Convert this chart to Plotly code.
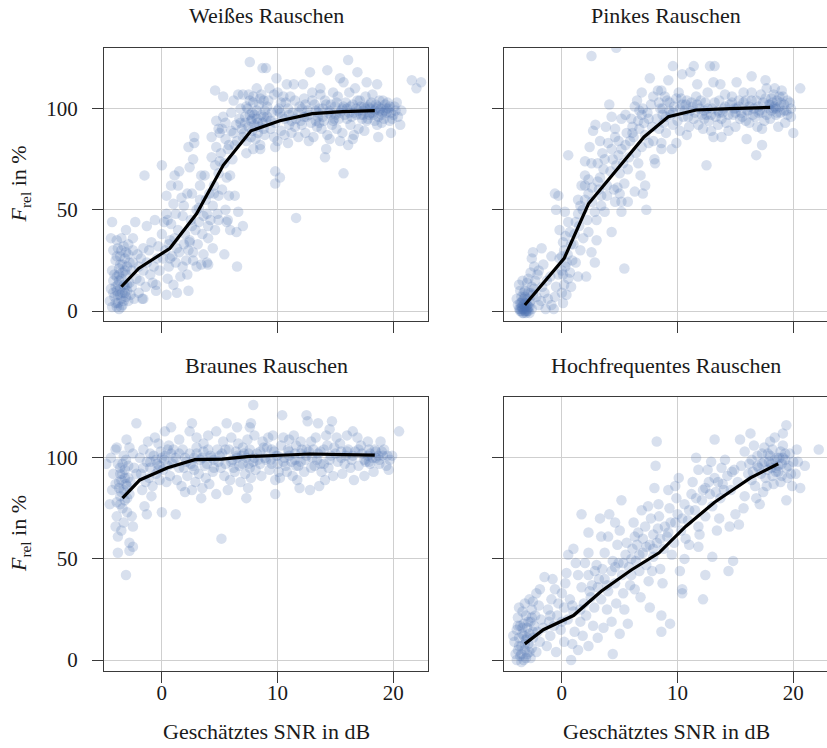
import plotly.graph_objects as go

W, H = 827, 748

# ---------------------------------------------------------------- data
titles = ["Weißes Rauschen", "Pinkes Rauschen", "Braunes Rauschen", "Hochfrequentes Rauschen"]
x_ticks = [0, 10, 20]
y_ticks = [0, 50, 100]

# per-sample measurements: (estimated SNR in dB, F_rel in %)
weiss_points = [
    (-4.3, 2), (-4.0, 4), (-3.7, 1), (-3.4, 3), (-4.1, 7), (-3.8, 8), (-3.5, 6), (-3.2, 9), (-2.9, 5), (-4.4, 11),
    (-4.0, 12), (-3.6, 11), (-3.3, 13), (-3.0, 10), (-2.7, 8), (-4.2, 15), (-3.9, 17), (-3.5, 16), (-3.1, 18), (-2.8, 14),
    (-4.3, 20), (-3.7, 21), (-3.4, 23), (-3.0, 22), (-2.6, 20), (-4.0, 25), (-3.6, 27), (-3.2, 26), (-2.9, 28), (-2.5, 24),
    (-4.2, 30), (-3.8, 31), (-3.3, 32), (-2.9, 33), (-2.5, 30), (-3.9, 35), (-3.5, 36), (-4.3, 44), (-2.3, 44), (-3.7, 15),
    (-2.6, 12), (-2.2, 16), (-2.4, 6), (-4.5, 5), (-3.9, 2), (-2.1, 28), (-2.0, 22), (-2.5, 36), (-3.1, 40), (-4.4, 36),
    (-3.8, 4), (-3.6, 8), (-3.3, 5), (-3.1, 7), (-3.9, 10), (-3.4, 9), (-3.2, 12), (-3.7, 18), (-3.4, 19), (-3.0, 13),
    (-3.6, 23), (-3.2, 20), (-3.9, 27), (-3.5, 30), (-3.1, 29), (-2.8, 24), (-4.1, 18), (-3.8, 13), (-3.5, 2), (-4.2, 9),
    (-1.9, 15), (-1.6, 20), (-1.3, 24), (-1.0, 18), (-0.7, 22), (-0.4, 26), (-1.8, 26), (-1.4, 12), (-1.1, 30), (-0.8, 14),
    (-0.5, 10), (-0.2, 20), (-1.6, 31), (-0.9, 34), (-1.3, 42), (-0.6, 45), (-1.5, 67), (-2.0, 9), (-0.3, 32), (-1.7, 6),
    (-1.6, 6), (-0.5, 13), (0.4, 8),
    (0.0, 38), (0.2, 44), (0.5, 45), (0.8, 43), (0.4, 48), (1.0, 53), (0.4, 57), (1.2, 48), (1.9, 52), (1.8, 47),
    (0.1, 26), (0.3, 30), (0.6, 22), (0.9, 27), (1.2, 24), (1.5, 29), (1.8, 22), (2.1, 25), (2.3, 30), (0.7, 35),
    (1.1, 36), (1.4, 40), (2.0, 38), (2.4, 35), (0.5, 16), (1.0, 13), (1.6, 17), (2.2, 18), (0.7, 26), (1.3, 9),
    (1.5, 69), (1.1, 67), (1.4, 62), (0.0, 72), (2.4, 71), (2.2, 58), (1.7, 56), (0.8, 62), (2.5, 45), (2.3, 10),
    (0.6, 33), (1.3, 31), (1.9, 33), (2.6, 42), (3.2, 51), (3.9, 48), (4.5, 58), (5.0, 74), (5.7, 80), (6.3, 82),
    (6.8, 93), (6.0, 89), (5.5, 93),
    (2.6, 58), (2.7, 75), (2.3, 81), (2.8, 86), (2.8, 83), (3.0, 50), (3.2, 44), (3.4, 67), (3.3, 62), (3.7, 67),
    (3.5, 38), (3.1, 33), (3.6, 28), (3.9, 24), (3.0, 22), (2.7, 25), (4.0, 36), (4.2, 45), (4.4, 52), (4.1, 58),
    (4.3, 76), (4.6, 72), (4.9, 68), (4.5, 62), (4.8, 48), (4.6, 40), (4.9, 45), (4.4, 31), (4.7, 81), (4.9, 90),
    (4.3, 86), (4.7, 94), (4.6, 109), (4.0, 42), (3.8, 55), (3.6, 47), (3.3, 55), (4.9, 57), (2.9, 40), (3.4, 23),
    (4.0, 23), (2.4, 34), (2.7, 29),
    (5.3, 106), (5.3, 96), (5.2, 90), (5.5, 85), (5.1, 78), (5.4, 73), (5.6, 66), (5.2, 60), (5.8, 57), (5.5, 50),
    (5.7, 45), (5.9, 67), (6.1, 75), (6.2, 88), (6.4, 92), (6.0, 98), (6.6, 107), (6.8, 100), (6.5, 84), (6.9, 90),
    (6.3, 57), (6.6, 49), (6.5, 22), (5.4, 28), (5.9, 40), (6.7, 95), (7.0, 86), (6.2, 104), (5.8, 82), (5.0, 88),
    (6.45, 39), (7.0, 42), (5.6, 44),
    (7.2, 96), (7.4, 100), (7.6, 104), (7.8, 98), (8.0, 92), (8.2, 95), (8.4, 102), (8.6, 97), (8.8, 90), (7.1, 88),
    (7.3, 84), (7.5, 91), (7.7, 86), (7.9, 80), (8.1, 85), (8.3, 88), (8.5, 82), (8.7, 93), (8.9, 99), (7.5, 107),
    (7.0, 107), (7.9, 106), (7.6, 123), (8.7, 120), (8.2, 110), (8.8, 104), (7.3, 78), (8.5, 80), (8.0, 97), (7.7, 94),
    (8.9, 87), (7.2, 93), (8.4, 91), (8.6, 107), (7.8, 89),
    (7.3, 101), (7.6, 97), (7.9, 103), (8.2, 99), (8.5, 105), (8.8, 96), (9.1, 101), (9.4, 94), (9.7, 107), (10.0, 99),
    (10.3, 103), (10.6, 95), (10.9, 100), (11.2, 94), (11.5, 104), (11.8, 98), (12.1, 92), (12.4, 102), (12.7, 97), (13.0, 104),
    (13.3, 94), (13.6, 100), (13.9, 96), (14.2, 102), (14.5, 99), (14.8, 94), (15.1, 103), (15.4, 98), (15.7, 101), (16.0, 95),
    (16.3, 101), (16.6, 98), (16.9, 104), (17.2, 97), (17.5, 101), (17.8, 95), (18.1, 103), (18.4, 99), (18.7, 101), (19.0, 97),
    (19.3, 102), (19.6, 100), (19.9, 95), (20.2, 99), (17.0, 99), (17.6, 100), (18.2, 98), (18.8, 99), (19.4, 98), (16.8, 100),
    (18.5, 102), (17.4, 97), (19.7, 101), (18.0, 100), (16.2, 98), (15.6, 100), (14.6, 97), (13.5, 98), (12.3, 96), (11.0, 97),
    (10.2, 98), (9.0, 94), (8.3, 93), (7.8, 95),
    (9.0, 120), (9.3, 110), (9.9, 115), (10.8, 112), (11.4, 112), (12.2, 112), (9.2, 104), (9.5, 98), (9.8, 93), (10.1, 100),
    (10.4, 96), (10.7, 103), (11.0, 92), (11.3, 98), (11.6, 95), (11.9, 101), (9.4, 90), (9.7, 86), (10.0, 84), (10.3, 89),
    (10.6, 87), (10.9, 83), (11.2, 88), (11.5, 91), (11.8, 86), (9.8, 81), (9.8, 69), (10.2, 66), (9.8, 63),
    (11.6, 46), (10.5, 106), (9.1, 96), (12.0, 94), (11.1, 106), (10.0, 108),
    (12.8, 118), (14.3, 119), (15.4, 115), (15.7, 113), (13.7, 110), (14.2, 80), (14.1, 76), (15.7, 68), (12.3, 105), (12.6, 99),
    (12.9, 93), (13.2, 102), (13.5, 96), (13.8, 90), (14.1, 104), (14.4, 98), (14.7, 92), (15.0, 101), (15.3, 95), (15.6, 88),
    (15.9, 103), (12.4, 88), (12.7, 84), (13.1, 86), (13.4, 91), (13.7, 107), (14.0, 94), (14.3, 87), (14.6, 102), (14.9, 95),
    (15.2, 106), (15.5, 99), (15.8, 97), (12.5, 96), (13.0, 108), (13.3, 99), (13.6, 93), (14.5, 85), (15.1, 90), (15.4, 84),
    (12.1, 100), (13.9, 100), (14.8, 108), (15.0, 97),
    (16.1, 124), (16.9, 118), (17.7, 113), (18.6, 112), (19.1, 104), (16.2, 108), (16.5, 102), (16.8, 97), (17.1, 104), (17.4, 99),
    (17.7, 94), (18.0, 102), (18.3, 97), (18.6, 92), (18.9, 100), (19.2, 95), (19.5, 103), (19.8, 98), (20.1, 101), (20.4, 96),
    (20.7, 99), (16.3, 92), (16.6, 87), (17.0, 90), (17.3, 95), (17.6, 106), (17.9, 97), (18.2, 107), (18.5, 100), (18.8, 104),
    (19.1, 98), (19.4, 100), (19.7, 94), (20.0, 97), (16.4, 96), (17.2, 101), (18.0, 98), (18.7, 96), (19.3, 99), (16.1, 82),
    (16.5, 85), (18.7, 86), (19.8, 88), (17.5, 89), (19.0, 93), (20.3, 103), (17.8, 101), (18.4, 94), (21.6, 114), (22.4, 113),
    (22.0, 110), (16.0, 100), (16.7, 110), (20.6, 92),
]

pink_points = [
    (-3.6, 0), (-3.4, 1), (-3.2, 0), (-3.0, 1), (-3.5, 2), (-3.3, 3), (-3.1, 2), (-2.9, 0), (-3.7, 1), (-3.4, -1),
    (-3.2, 4), (-3.0, 3), (-2.8, 2), (-3.6, 4), (-3.3, 6), (-3.0, 6), (-2.7, 5), (-3.8, 3), (-3.5, 7), (-2.6, 1),
    (-3.1, -1), (-2.8, -1), (-3.9, 6), (-3.6, 10), (-3.2, 10), (-2.9, 9), (-2.5, 8), (-3.0, 14), (-2.6, 12), (-2.3, 15),
    (-3.5, 0), (-3.3, 1), (-3.1, 0), (-3.4, 2), (-3.2, 2), (-3.0, 0), (-3.6, 1), (-3.3, -1), (-2.9, 2), (-3.5, 4),
    (-3.1, 4), (-3.4, 5), (-2.8, 4), (-3.2, 7), (-2.7, 9), (-2.4, 11), (-2.9, 16), (-3.3, 9),
    (-2.0, 3), (-2.2, 7), (-1.8, 5), (-1.5, 9), (-1.2, 6), (-0.9, 3), (-0.6, 7), (-1.7, 12), (-1.3, 15), (-2.1, 18),
    (-2.7, 19), (-2.4, 22), (-2.0, 20), (-1.6, 23), (-2.6, 26), (-2.5, 29), (-1.75, 31), (-0.9, 27), (-0.2, 26), (-1.0, 17),
    (-0.5, 12), (-0.3, 18), (-3.4, 15), (-3.7, 13), (-1.4, 1), (-0.7, 1),
    (0.1, 4), (0.0, 9), (0.2, 13), (0.1, 18), (0.3, 22), (0.0, 27), (0.2, 30), (0.1, 34), (-0.2, 40), (0.3, 37),
    (0.7, 19), (0.55, 16), (0.7, 39), (0.55, 44), (0.26, 49), (-0.5, 50), (-0.6, 58), (-0.3, 57), (0.5, 28), (0.4, 8),
    (0.8, 12), (0.9, 25),
    (0.0, 20), (0.4, 24), (0.8, 33), (1.2, 44), (1.6, 52), (2.0, 55), (2.6, 61), (3.1, 64), (3.7, 75), (4.3, 80),
    (4.9, 84), (5.5, 82), (6.1, 88), (6.6, 94), (7.0, 100), (3.9, 57), (4.5, 60),
    (1.4, 17), (2.1, 17), (1.2, 24), (1.6, 30), (1.85, 36), (2.3, 39), (2.56, 29), (2.85, 24), (1.0, 33), (1.5, 42),
    (1.4, 48), (1.4, 55), (1.8, 50), (2.3, 58), (2.0, 62), (2.0, 67), (2.3, 65), (2.85, 49), (3.0, 45), (2.6, 54),
    (2.0, 74), (2.56, 73), (3.1, 73), (2.4, 81), (2.7, 89), (2.56, 126), (1.1, 38), (3.2, 60), (3.4, 57), (3.3, 66),
    (3.0, 35), (2.2, 45), (1.7, 62), (0.55, 77), (3.5, 78), (3.3, 84), (2.9, 92), (3.4, 52),
    (3.7, 49), (4.0, 83), (4.6, 86), (4.6, 90), (4.9, 77), (5.15, 80), (4.7, 72), (5.0, 68), (5.4, 63), (5.7, 70),
    (4.6, 54), (5.15, 54), (5.7, 54), (5.15, 49), (4.3, 39), (5.4, 21), (5.15, 95), (4.7, 130), (4.2, 69), (4.4, 75),
    (3.9, 62), (3.8, 91), (4.3, 96), (5.6, 88), (5.9, 84), (5.5, 97), (4.1, 102), (5.0, 58), (3.6, 70), (5.8, 76),
    (4.8, 61), (5.3, 73),
    (6.0, 95), (6.7, 90), (6.9, 97), (6.3, 101), (7.7, 102), (6.9, 108), (7.6, 115), (6.3, 59), (7.0, 58), (7.3, 50),
    (6.6, 73), (7.2, 62), (6.9, 81), (7.5, 83), (6.2, 86), (6.5, 104), (7.1, 93), (7.4, 98), (7.8, 91), (7.9, 106),
    (6.4, 78), (6.8, 67), (7.2, 87), (7.5, 95), (7.9, 84), (6.1, 91), (6.7, 99),
    (8.3, 109), (8.0, 75), (8.6, 83), (8.06, 73), (9.5, 80), (9.9, 83), (8.6, 80), (8.6, 109), (9.2, 114), (9.6, 121),
    (10.4, 117), (11.1, 118), (11.4, 121), (11.7, 112), (10.8, 87), (8.2, 95), (8.5, 100), (8.8, 93), (9.1, 104), (9.4, 97),
    (9.7, 101), (10.0, 94), (10.3, 105), (10.6, 99), (10.9, 96), (11.2, 103), (11.5, 98), (11.8, 92), (8.4, 90), (9.0, 88),
    (9.6, 92), (10.2, 89), (11.0, 91), (11.6, 106), (8.9, 106), (10.1, 108), (9.3, 99), (10.7, 102), (11.9, 100), (8.7, 97),
    (8.4, 103), (8.7, 100), (9.0, 96), (9.3, 103), (9.6, 98), (9.9, 105), (10.2, 100), (10.5, 96), (10.8, 104), (11.1, 99),
    (11.4, 95), (11.7, 102), (12.0, 104), (12.3, 95), (12.6, 100), (12.9, 97), (13.2, 103), (13.5, 99), (13.8, 95), (14.1, 101),
    (14.4, 97), (14.7, 103), (15.0, 98), (15.3, 101), (15.6, 96), (15.9, 104), (16.2, 101), (16.5, 97), (16.8, 104), (17.1, 99),
    (17.4, 103), (17.7, 97), (18.0, 102), (18.3, 100), (18.6, 98), (18.9, 103), (19.2, 99), (19.5, 104), (19.8, 96), (18.1, 105),
    (17.9, 102), (18.5, 100), (18.8, 106), (17.0, 98), (16.0, 99), (14.9, 100), (13.6, 98), (12.5, 97), (11.3, 101), (10.4, 102),
    (12.5, 72), (12.8, 121), (13.2, 121), (13.1, 113), (13.7, 112), (15.1, 113), (15.7, 108), (13.1, 86), (13.8, 86), (15.97, 85),
    (12.1, 97), (12.4, 103), (12.7, 94), (13.0, 100), (13.3, 96), (13.6, 104), (13.9, 98), (14.2, 93), (14.5, 102), (14.8, 97),
    (15.1, 100), (15.4, 95), (15.7, 103), (12.2, 90), (12.9, 89), (13.5, 92), (14.1, 107), (14.4, 89), (14.7, 106), (15.0, 91),
    (15.5, 98), (15.9, 94), (12.6, 108), (14.0, 100), (15.3, 104), (12.3, 99),
    (16.4, 116), (17.6, 114), (20.6, 110), (16.4, 108), (17.7, 110), (18.4, 110), (17.3, 90), (19.3, 93), (20.0, 88), (18.7, 91),
    (17.3, 82), (16.8, 77), (16.1, 99), (16.4, 104), (16.7, 96), (17.0, 101), (17.3, 98), (17.6, 105), (17.9, 100), (18.2, 103),
    (18.5, 97), (18.8, 101), (19.1, 106), (19.4, 99), (19.7, 103), (18.0, 95), (18.3, 107), (18.6, 104), (18.9, 98), (19.2, 102),
    (16.2, 93), (16.9, 91), (17.5, 94), (18.1, 99), (19.5, 97), (19.0, 109), (17.2, 107), (18.4, 101), (19.8, 100), (16.6, 100),
]

braun_points = [
    (-4.8, 97), (-3.9, 105), (-4.0, 104), (-3.05, 109), (-2.2, 117), (-2.8, 105), (-2.5, 102), (-3.6, 95), (-3.2, 94), (-3.5, 89),
    (-2.9, 90), (-4.0, 87), (-3.7, 85), (-3.3, 84), (-4.3, 84), (-3.6, 81), (-3.2, 79), (-3.9, 78), (-4.5, 77), (-2.8, 82),
    (-3.4, 75), (-3.0, 73), (-3.9, 71), (-4.0, 66), (-3.5, 64), (-3.3, 68), (-2.6, 71), (-2.5, 66), (-2.8, 58), (-3.8, 53),
    (-2.8, 54), (-2.5, 56), (-3.1, 42), (-3.6, 92), (-4.2, 92), (-3.1, 99), (-2.4, 95), (-2.7, 88), (-3.4, 97), (-2.2, 92),
    (-3.0, 86), (-4.4, 100), (-3.8, 61),
    (-3.7, 88), (-3.4, 92), (-3.1, 87), (-3.5, 83), (-3.2, 90), (-2.9, 96), (-3.8, 97), (-3.3, 101), (-3.6, 77), (-3.0, 80),
    (-1.5, 76), (-1.3, 72), (0.0, 73), (-1.9, 100), (-1.6, 104), (-1.3, 98), (-1.0, 95), (-0.7, 101), (-0.4, 97), (-0.1, 103),
    (0.2, 99), (0.5, 96), (0.8, 102), (-1.8, 92), (-1.4, 88), (-1.1, 90), (-0.8, 86), (-0.5, 92), (-0.2, 89), (0.1, 94),
    (0.4, 88), (0.7, 91), (-1.7, 84), (-0.9, 81), (-0.3, 107), (0.26, 113), (0.8, 115), (-1.2, 108), (-0.6, 110), (0.6, 106),
    (-1.0, 98), (0.9, 97), (0.3, 101), (-0.2, 96), (-1.6, 95),
    (-1.0, 102), (-0.5, 99), (0.0, 100), (0.5, 104), (1.0, 98), (1.5, 102), (2.0, 100), (2.5, 97), (3.0, 102), (3.5, 100),
    (4.0, 104), (4.5, 99), (5.0, 101), (5.5, 104), (6.0, 98), (6.5, 100), (7.0, 97), (7.5, 102), (8.0, 100), (8.5, 103),
    (9.0, 99), (9.5, 104), (10.0, 101), (10.5, 98), (11.0, 103), (11.5, 99), (12.0, 102), (12.5, 104), (13.0, 100), (13.5, 102),
    (14.0, 104), (14.5, 99), (15.0, 102), (15.5, 100), (16.0, 103), (16.5, 101), (17.0, 104), (17.5, 99), (18.0, 102), (18.5, 100),
    (19.0, 103), (19.5, 101), (18.8, 99), (18.4, 104), (17.9, 98), (13.7, 97), (11.6, 96), (7.6, 95), (2.8, 94), (-0.3, 94),
    (1.2, 72), (1.2, 100), (1.5, 95), (1.8, 104), (2.1, 98), (2.4, 102), (2.7, 96), (3.0, 105), (3.3, 99), (3.6, 103),
    (3.9, 97), (4.2, 101), (4.5, 95), (4.8, 104), (1.3, 89), (1.7, 86), (2.2, 91), (2.6, 84), (2.9, 88), (3.2, 92), (3.5, 85),
    (3.8, 90), (4.1, 87), (4.4, 93), (4.7, 82), (2.6, 117), (2.4, 113), (4.7, 113), (1.5, 109), (3.0, 110), (3.6, 107),
    (4.0, 111), (1.0, 104), (2.0, 83), (3.4, 80), (4.3, 100), (1.9, 95), (2.8, 100), (3.7, 96), (4.9, 98),
    (5.15, 60), (5.6, 117), (6.5, 115), (7.6, 115), (7.9, 126), (7.7, 117), (7.3, 80), (7.45, 85), (5.2, 102), (5.5, 97),
    (5.8, 104), (6.1, 99), (6.4, 103), (6.7, 96), (7.0, 105), (7.3, 100), (7.6, 104), (7.9, 98), (8.2, 102), (8.5, 97),
    (8.8, 105), (5.4, 91), (5.9, 89), (6.3, 93), (6.8, 88), (7.2, 92), (7.7, 90), (8.1, 94), (8.6, 91), (5.3, 108),
    (6.0, 110), (6.6, 107), (7.4, 109), (8.0, 111), (8.7, 108), (5.7, 84), (6.9, 101), (7.5, 97), (8.3, 99), (6.2, 95),
    (7.1, 102), (8.9, 100), (5.1, 95), (6.5, 101),
    (10.4, 121), (12.5, 121), (12.6, 118), (9.8, 82), (11.9, 85), (12.8, 84), (9.8, 89), (10.1, 93), (9.1, 105), (9.4, 99),
    (9.7, 103), (10.0, 97), (10.3, 106), (10.6, 100), (10.9, 104), (11.2, 98), (11.5, 102), (11.8, 96), (12.1, 104), (12.4, 99),
    (12.7, 103), (9.2, 110), (9.6, 111), (10.5, 110), (11.0, 109), (11.4, 111), (12.0, 108), (12.9, 108), (9.3, 94), (10.2, 90),
    (10.8, 93), (11.3, 91), (11.7, 89), (12.3, 93), (12.9, 95), (9.9, 101), (10.7, 96), (11.6, 106), (12.5, 101), (11.0, 101),
    (9.5, 97), (12.0, 98),
    (13.5, 117), (14.7, 118), (20.5, 113), (13.6, 86), (14.1, 89), (13.1, 104), (13.4, 99), (13.7, 103), (14.0, 97), (14.3, 106),
    (14.6, 101), (14.9, 105), (15.2, 98), (15.5, 103), (15.8, 97), (16.1, 104), (16.4, 99), (16.7, 103), (17.0, 96), (17.3, 102),
    (17.6, 98), (17.9, 104), (18.2, 100), (18.5, 103), (18.8, 97), (19.1, 101), (19.4, 96), (19.7, 99), (13.3, 110), (14.2, 111),
    (15.1, 110), (16.0, 111), (16.9, 110), (17.8, 108), (13.8, 93), (14.8, 91), (15.6, 92), (16.6, 89), (17.5, 91), (18.3, 93),
    (18.9, 108), (19.6, 94), (13.2, 96), (14.4, 95), (15.4, 107), (16.3, 95), (17.2, 106), (18.0, 97), (18.7, 101), (19.2, 104),
    (15.9, 101), (17.8, 101), (19.9, 101), (14.5, 114), (16.5, 113),
]

hf_points = [
    (-3.9, 0), (-3.6, 2), (-3.3, 0), (-3.0, 3), (-2.7, 1), (-3.8, 5), (-3.5, 7), (-3.2, 5), (-2.9, 8), (-2.6, 6),
    (-4.1, 9), (-3.7, 11), (-3.4, 13), (-3.1, 10), (-2.8, 13), (-2.5, 11), (-3.9, 15), (-3.6, 17), (-3.3, 18), (-3.0, 16),
    (-2.7, 19), (-2.4, 17), (-3.8, 21), (-3.4, 24), (-3.1, 22), (-2.6, 25), (-2.3, 22), (-2.8, 30), (-2.5, 29), (-2.0, 27),
    (-4.0, 3), (-3.5, -1), (-2.2, 4), (-1.9, 9), (-2.1, 14), (-1.8, 20), (-1.6, 16), (-1.9, 35), (-1.5, 41), (-3.2, 28),
    (-2.2, 33), (-3.7, 26), (-4.2, 12),
    (-3.5, 3), (-3.2, 8), (-3.0, 11), (-3.4, 16), (-2.8, 4), (-3.7, 7), (-3.1, 1), (-2.9, 19), (-2.5, 14), (-3.3, 12),
    (-2.6, 21), (-3.8, 17),
    (-1.3, 7), (-1.0, 12), (-0.7, 17), (-0.4, 22), (-0.1, 15), (0.2, 26), (0.5, 20), (0.8, 0), (1.1, 14), (1.4, 5),
    (-1.2, 25), (-0.9, 30), (-0.6, 35), (-0.3, 28), (0.0, 33), (0.4, 43), (0.3, 38), (0.7, 30), (1.0, 24), (1.4, 42),
    (1.7, 36), (0.55, 52), (1.0, 55), (1.7, 72), (-1.1, 19), (-0.5, 4), (0.2, 9), (1.6, 19), (1.9, 28), (-0.8, 40),
    (1.2, 48), (0.9, 8), (1.8, 12),
    (-1.0, 22), (0.0, 19), (0.9, 27), (1.6, 25), (2.4, 34), (3.2, 40), (3.9, 37), (4.6, 46), (5.3, 48), (6.0, 50),
    (6.7, 52), (7.3, 56), (7.9, 55), (8.5, 60), (9.2, 63), (9.8, 68), (10.4, 70), (11.0, 74), (11.6, 80), (12.2, 84),
    (12.8, 82), (13.5, 88), (14.0, 84), (14.7, 93),
    (2.3, 63), (2.3, 53), (2.3, 42), (2.85, 44), (3.3, 70), (4.1, 72), (4.6, 68), (3.4, 61), (4.0, 61), (5.0, 64),
    (3.7, 53), (4.4, 49), (5.15, 79), (4.4, 3), (2.3, 7), (3.1, 11), (5.4, 25), (5.7, 18), (2.1, 22), (2.5, 31),
    (2.8, 26), (3.1, 36), (3.4, 30), (3.7, 40), (4.0, 34), (4.3, 44), (4.6, 38), (4.9, 48), (5.2, 42), (5.5, 52),
    (5.8, 46), (2.6, 37), (3.0, 47), (3.5, 45), (3.9, 25), (4.3, 19), (4.8, 57), (5.3, 33), (5.6, 58), (5.9, 37),
    (2.0, 48), (3.6, 16), (4.7, 28), (5.0, 13), (2.7, 17),
    (6.3, 35), (7.6, 26), (6.9, 74), (7.45, 76), (6.3, 61), (7.0, 60), (8.3, 65), (7.7, 70), (8.2, 108), (8.1, 96),
    (8.0, 85), (8.35, 77), (8.6, 22), (8.6, 14), (6.1, 55), (6.4, 49), (6.7, 44), (7.0, 53), (7.3, 47), (7.6, 57),
    (7.9, 51), (8.2, 58), (8.5, 45), (8.8, 55), (6.2, 68), (6.6, 63), (7.2, 66), (7.5, 39), (7.9, 62), (8.4, 71),
    (8.9, 66), (6.8, 31), (8.7, 38), (6.0, 42), (7.8, 44), (6.5, 57),
    (9.2, 84), (9.8, 86), (10.1, 90), (11.8, 94), (13.2, 90), (12.4, 85), (9.35, 18), (10.4, 35), (10.4, 33), (12.2, 30),
    (11.8, 56), (13.0, 51), (12.4, 42), (10.6, 50), (13.2, 109), (9.1, 61), (9.4, 68), (9.7, 58), (10.0, 72), (10.3, 64),
    (10.6, 77), (10.9, 69), (11.2, 82), (11.5, 74), (11.8, 66), (12.1, 79), (12.4, 71), (12.7, 88), (13.0, 76), (13.3, 83),
    (13.6, 70), (13.9, 87), (9.3, 75), (9.9, 80), (10.7, 60), (11.3, 88), (11.9, 62), (12.6, 94), (13.4, 64), (13.8, 95),
    (9.5, 52), (10.2, 44), (11.0, 57), (12.9, 98), (13.7, 80), (11.6, 100),
    (14.1, 99), (15.8, 103), (14.8, 49), (14.4, 44), (15.4, 109), (16.3, 112), (18.0, 108), (19.4, 116), (19.1, 112), (22.2, 104),
    (21.0, 96), (20.6, 85), (19.9, 86), (19.4, 79), (14.3, 91), (14.6, 84), (14.9, 94), (15.2, 88), (15.5, 96), (15.8, 81),
    (16.1, 92), (16.4, 99), (16.7, 86), (17.0, 95), (17.3, 102), (17.6, 90), (17.9, 98), (18.2, 104), (18.5, 93), (18.8, 100),
    (19.1, 106), (19.4, 95), (19.7, 102), (20.0, 98), (16.6, 106), (17.4, 83), (18.3, 87), (18.7, 96), (19.0, 91), (17.1, 77),
    (15.0, 72), (14.5, 66), (15.7, 75), (16.8, 80), (18.1, 97), (18.9, 103), (19.3, 99), (17.8, 94), (16.9, 101), (18.4, 110),
    (20.3, 104), (15.3, 67), (20.2, 92),
    (16.2, 97), (16.5, 93), (16.9, 96), (17.2, 92), (17.5, 98), (17.8, 102), (18.1, 95), (18.4, 99), (18.7, 93), (19.0, 97),
    (19.3, 102), (19.6, 96), (18.6, 100), (18.2, 91), (17.7, 86), (19.8, 92), (18.9, 88), (17.5, 105), (16.4, 89), (19.1, 100),
    (18.0, 101), (18.5, 95), (17.3, 97), (19.5, 90), (20.4, 98),
]

# binned means drawn as the black curve
weiss_line_x = [-3.5, -2.0, 0.7, 3.0, 5.3, 7.7, 10.2, 13.0, 15.6, 18.4]
weiss_line_y = [12, 21, 31, 48, 72, 89, 94, 97.5, 98.5, 99]
pink_line_x = [-3.2, 0.2, 2.3, 4.7, 7.1, 9.2, 11.6, 14.5, 18.0]
pink_line_y = [3, 26, 53, 69.5, 86, 96, 99.3, 100, 100.6]
braun_line_x = [-3.4, -1.9, 0.5, 2.85, 5.2, 7.6, 10.2, 12.8, 15.6, 18.4]
braun_line_y = [80, 89, 95, 99, 99.3, 100.6, 101.2, 101.8, 101.5, 101.3]
hf_line_x = [-3.2, -1.6, 1.0, 3.4, 6.0, 8.4, 10.7, 13.2, 16.3, 18.7]
hf_line_y = [8, 15, 22, 34, 44.5, 53, 66, 78, 90, 97]

# ---------------------------------------------------------------- layout helpers
FONT = "Liberation Serif"
TXT = "#1a1a1a"
FRAME = "#3a3a3a"
GRID = "#cfcfcf"
DOT = "rgba(76,114,176,0.22)"
LABEL_SIZE = 22
TICK_SIZE = 21

# panel boxes in pixels: (left, right, top, bottom)
boxes = [(104, 428, 48, 322), (504, 827, 48, 322), (104, 428, 398, 673), (504, 827, 398, 673)]
px_per_db = 324 / 28.0
px_per_pct = 274 / 135.0


def xdom(l, r):
    return [l / W, r / W]


def ydom(t, b):
    return [1 - b / H, 1 - t / H]


fig = go.Figure()
series = [
    (weiss_points, weiss_line_x, weiss_line_y),
    (pink_points, pink_line_x, pink_line_y),
    (braun_points, braun_line_x, braun_line_y),
    (hf_points, hf_line_x, hf_line_y),
]

for i, (pts, lx, ly) in enumerate(series):
    n = "" if i == 0 else str(i + 1)
    fig.add_trace(go.Scatter(
        x=[p[0] for p in pts], y=[p[1] for p in pts], mode="markers",
        marker=dict(size=10.5, color=DOT, line=dict(width=0)),
        xaxis="x" + n, yaxis="y" + n, showlegend=False, hoverinfo="skip",
    ))
    fig.add_trace(go.Scatter(
        x=lx, y=ly, mode="lines", line=dict(color="black", width=3.2),
        xaxis="x" + n, yaxis="y" + n, showlegend=False,
    ))

layout = dict(
    width=W, height=H, margin=dict(l=0, r=0, t=0, b=0),
    paper_bgcolor="white", plot_bgcolor="white",
    font=dict(family=FONT, size=TICK_SIZE, color=TXT),
    annotations=[],
)

for i, (l, r, t, b) in enumerate(boxes):
    n = "" if i == 0 else str(i + 1)
    left_col = i % 2 == 0
    bottom_row = i >= 2
    x_hi = -5 + (r - l) / px_per_db
    y_lo = 130 - (b - t) / px_per_pct
    cx = (l + (l + 324)) / 2 / W
    layout["xaxis" + n] = dict(
        domain=xdom(l, r), anchor="y" + n, range=[-5, x_hi],
        tickvals=x_ticks, showticklabels=bottom_row,
        ticks="outside", ticklen=11, tickwidth=1.2, tickcolor=FRAME,
        showline=True, linecolor=FRAME, linewidth=1.3, mirror=True,
        showgrid=True, gridcolor=GRID, gridwidth=1.2, zeroline=False,
        tickfont=dict(family=FONT, size=TICK_SIZE, color=TXT), ticklabelstandoff=-9,
    )
    layout["yaxis" + n] = dict(
        domain=ydom(t, b), anchor="x" + n, range=[y_lo, 130],
        tickvals=y_ticks, showticklabels=left_col,
        ticks="outside", ticklen=11, tickwidth=1.2, tickcolor=FRAME,
        showline=True, linecolor=FRAME, linewidth=1.3, mirror=left_col,
        showgrid=True, gridcolor=GRID, gridwidth=1.2, zeroline=False,
        tickfont=dict(family=FONT, size=TICK_SIZE, color=TXT), ticklabelstandoff=10,
    )
    # panel title
    layout["annotations"].append(dict(
        text=titles[i], xref="paper", yref="paper",
        x=cx, y=1 - (t - 32) / H,
        xanchor="center", yanchor="middle", showarrow=False,
        font=dict(family=FONT, size=LABEL_SIZE, color=TXT),
    ))
    if bottom_row:
        layout["annotations"].append(dict(
            text="Geschätztes SNR in dB", xref="paper", yref="paper",
            x=cx, y=1 - 733 / H,
            xanchor="center", yanchor="middle", showarrow=False,
            font=dict(family=FONT, size=LABEL_SIZE, color=TXT),
        ))
    if left_col:
        layout["annotations"].append(dict(
            text="<i>F</i><sub>rel</sub> in %", xref="paper", yref="paper",
            x=20 / W, y=1 - (t + b) / 2 / H, textangle=-90,
            xanchor="center", yanchor="middle", showarrow=False,
            font=dict(family=FONT, size=LABEL_SIZE, color=TXT),
        ))

fig.update_layout(**layout)
fig.write_html("out.html")
